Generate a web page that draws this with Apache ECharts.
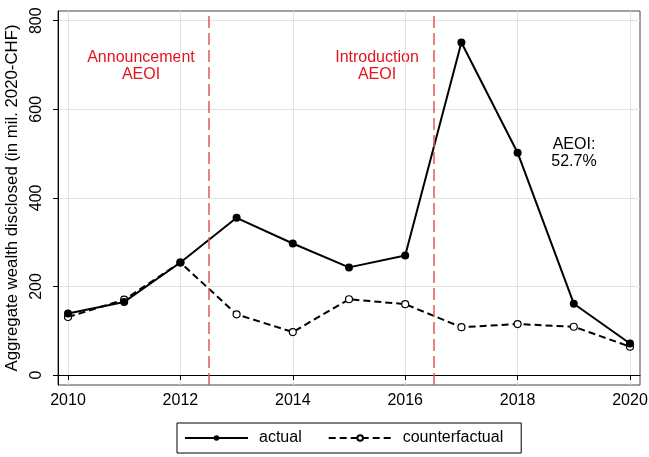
<!DOCTYPE html>
<html>
<head>
<meta charset="utf-8">
<script src="https://cdn.jsdelivr.net/npm/echarts@6/dist/echarts.min.js"></script>
<style>
  html, body { margin: 0; padding: 0; background: #fff; }
  #chart { width: 649px; height: 457px; }
</style>
</head>
<body>
<div id="chart"></div>
<script>
var years = [2010, 2011, 2012, 2013, 2014, 2015, 2016, 2017, 2018, 2019, 2020];
var actual = [139, 165, 254, 355, 297, 243, 270, 751, 502, 161, 71];
var counterfactual = [131, 170, 254, 137, 97, 171, 160, 108, 115, 109, 64];
var xTicks = [2010, 2012, 2014, 2016, 2018, 2020];
var yTicks = [0, 200, 400, 600, 800];
var eventLines = [2012.5, 2016.5];

var font = 'Liberation Sans, Arial, Helvetica, sans-serif';
var chart = echarts.init(document.getElementById('chart'));

function pairs(vals) {
  return years.map(function (y, i) { return [y, vals[i]]; });
}

var option = {
  animation: false,
  textStyle: { fontFamily: font },
  grid: {
    left: 58, top: 11, right: 9, bottom: 72,
    outerBoundsMode: 'none',
    containLabel: false,
    show: true, borderColor: '#444', borderWidth: 1
  },
  xAxis: {
    type: 'value',
    min: 2009.822, max: 2020.178,
    axisLine: { lineStyle: { color: '#000', width: 1 } },
    axisTick: { show: true, length: 5, customValues: xTicks, lineStyle: { color: '#000' } },
    axisLabel: {
      customValues: xTicks, color: '#000', fontSize: 16, margin: 8, fontFamily: font,
      formatter: function (v) { return String(v); }
    },
    splitLine: { show: true, lineStyle: { color: '#e2e2e2', width: 1 } }
  },
  yAxis: {
    type: 'value',
    min: -22.6, max: 822,
    name: 'Aggregate wealth disclosed (in mil. 2020-CHF)',
    nameLocation: 'middle',
    nameGap: 30,
    nameRotate: 90,
    nameTextStyle: { color: '#000', fontSize: 16.8, fontFamily: font },
    axisLine: { show: true, lineStyle: { color: '#000', width: 1 } },
    axisTick: { show: true, length: 5, customValues: yTicks, lineStyle: { color: '#000' } },
    axisLabel: { customValues: yTicks, rotate: 90, color: '#000', fontSize: 16, margin: 13, fontFamily: font },
    splitLine: { show: true, lineStyle: { color: '#e2e2e2', width: 1 } }
  },
  legend: {
    left: 177, top: 423,
    orient: 'horizontal',
    itemWidth: 63, itemHeight: 7, itemGap: 26,
    padding: [7, 18, 7, 7],
    borderColor: '#000', borderWidth: 1,
    textStyle: { color: '#000', fontSize: 16, fontFamily: font, padding: [0, 0, 0, 6] },
    data: ['actual', 'counterfactual']
  },
  series: [
    {
      name: 'actual',
      type: 'line',
      data: pairs(actual),
      symbol: 'circle',
      symbolSize: 8,
      itemStyle: { color: '#000' },
      lineStyle: { color: '#000', width: 2 },
      z: 3,
      markLine: {
        silent: true,
        symbol: 'none',
        label: { show: false },
        lineStyle: { color: '#e05a5a', type: [12, 5], width: 1.5 },
        data: eventLines.map(function (v) { return { xAxis: v }; })
      }
    },
    {
      name: 'counterfactual',
      type: 'line',
      data: pairs(counterfactual),
      symbol: 'circle',
      symbolSize: 7,
      itemStyle: { color: '#fff', borderColor: '#000', borderWidth: 1.2 },
      lineStyle: { color: '#000', width: 2, type: [7, 4] },
      z: 2
    }
  ],
  graphic: [
    {
      type: 'text',
      style: {
        x: 141, y: 66, text: 'Announcement\nAEOI', align: 'center', verticalAlign: 'middle',
        fill: '#e3141e', fontSize: 16, fontFamily: font, lineHeight: 17
      }
    },
    {
      type: 'text',
      style: {
        x: 377, y: 66, text: 'Introduction\nAEOI', align: 'center', verticalAlign: 'middle',
        fill: '#e3141e', fontSize: 16, fontFamily: font, lineHeight: 17
      }
    },
    {
      type: 'text',
      style: {
        x: 574, y: 153, text: 'AEOI:\n52.7%', align: 'center', verticalAlign: 'middle',
        fill: '#000', fontSize: 16, fontFamily: font, lineHeight: 17
      }
    }
  ]
};

chart.setOption(option);
</script>
</body>
</html>
